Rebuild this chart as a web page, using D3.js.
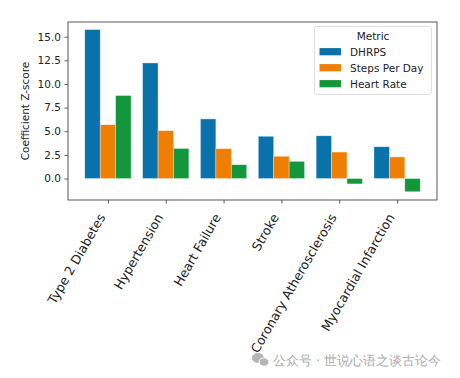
<!DOCTYPE html>
<html><head><meta charset="utf-8">
<script src="https://cdn.jsdelivr.net/npm/d3@7"></script>
<style>body{margin:0;background:#fff}svg{display:block}text{font-family:"DejaVu Sans",sans-serif}</style>
</head><body>
<svg id="c" width="460" height="378"></svg>
<script>
const categories = ["Type 2 Diabetes","Hypertension","Heart Failure","Stroke","Coronary Atherosclerosis","Myocardial Infarction"];
const seriesNames = ["DHRPS","Steps Per Day","Heart Rate"];
const dhrps = [15.75, 12.22, 6.30, 4.47, 4.52, 3.36];
const steps = [5.69, 5.06, 3.16, 2.36, 2.80, 2.28];
const heartRate = [8.78, 3.18, 1.46, 1.82, -0.57, -1.40];
const yTicks = [0, 2.5, 5, 7.5, 10, 12.5, 15];
const colors = ["#0a72aa","#ee7e04","#13963c"];
const series = [dhrps, steps, heartRate];

const svg = d3.select("#c");
const L = 68, R = 437, T = 22, B = 200;
const x = d3.scaleLinear().domain([-0.69, 5.69]).range([L, R]);
const y = d3.scaleLinear().domain([-2.27, 16.55]).range([B, T]);
const bw = 0.8 / 3;

const g = svg.append("g");
series.forEach((vals, j) => {
  g.selectAll(null).data(vals).enter().append("rect")
    .attr("x", (d, i) => x(i - 0.4 + j * bw))
    .attr("width", x(bw) - x(0))
    .attr("y", d => y(Math.max(d, 0)))
    .attr("height", d => Math.abs(y(d) - y(0)))
    .attr("fill", colors[j])
    .attr("stroke", "rgba(255,255,255,0.6)").attr("stroke-width", 0.6);
});

const yAxis = svg.append("g").attr("transform", `translate(${L},0)`)
  .call(d3.axisLeft(y).tickValues(yTicks).tickFormat(d3.format(".1f")).tickSizeOuter(0).tickSize(3.5).tickPadding(3.5));
const xAxis = svg.append("g").attr("transform", `translate(0,${B})`)
  .call(d3.axisBottom(x).tickValues(d3.range(categories.length)).tickFormat(i => categories[i]).tickSizeOuter(0).tickSize(3.5).tickPadding(3));
[yAxis, xAxis].forEach(a => {
  a.select(".domain").remove();
  a.selectAll("line").attr("stroke", "#333").attr("stroke-width", 0.8);
  a.selectAll("text").attr("fill", "#222").attr("font-size", "10.5px");
});
xAxis.selectAll("text")
  .attr("text-anchor", "end")
  .attr("x", 0).attr("y", 0).attr("dy", 0)
  .attr("font-size", "12.7px")
  .attr("transform", "translate(-2.6,17) rotate(-60)");

svg.append("rect").attr("x", L).attr("y", T).attr("width", R - L).attr("height", B - T)
  .attr("fill", "none").attr("stroke", "#444").attr("stroke-width", 0.9);

svg.append("text").attr("transform", `translate(29,${(T + B) / 2}) rotate(-90)`)
  .attr("text-anchor", "middle").attr("font-size", "10.5px").attr("fill", "#222")
  .text("Coefficient Z-score");

// legend
const lg = svg.append("g");
lg.append("rect").attr("x", 314.5).attr("y", 26.5).attr("width", 117).attr("height", 68)
  .attr("rx", 2.5).attr("fill", "rgba(255,255,255,0.85)").attr("stroke", "#d5d5d5").attr("stroke-width", 0.8);
lg.append("text").attr("x", 373).attr("y", 39.5).attr("text-anchor", "middle")
  .attr("font-size", "10.5px").attr("fill", "#222").text("Metric");
seriesNames.forEach((n, j) => {
  const cy = 51.7 + j * 16;
  lg.append("rect").attr("x", 319.5).attr("y", cy - 3.6).attr("width", 21.5).attr("height", 7.2).attr("fill", colors[j]);
  lg.append("text").attr("x", 350).attr("y", cy + 3.8).attr("font-size", "10.5px").attr("fill", "#222").text(n);
});

// watermark
const wm = svg.append("g").attr("fill", "#b5b5b5");
wm.append("ellipse").attr("cx", 258).attr("cy", 358).attr("rx", 6).attr("ry", 5);
wm.append("ellipse").attr("cx", 264).attr("cy", 362).attr("rx", 5).attr("ry", 4.2).attr("stroke", "#fff").attr("stroke-width", 1);
wm.append("text").attr("x", 273).attr("y", 365).attr("font-size", "12.8px")
  .attr("font-family", "'Noto Sans CJK SC',sans-serif").attr("fill", "#aaa")
  .text("公众号 · 世说心语之谈古论今");
</script>
</body></html>
